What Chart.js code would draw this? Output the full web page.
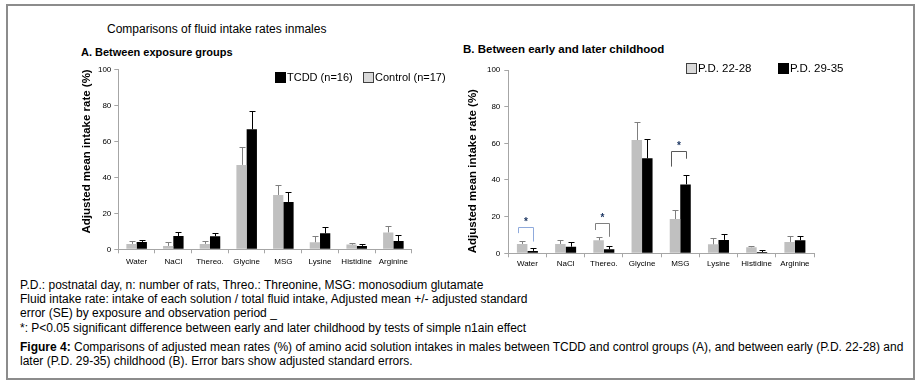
<!DOCTYPE html>
<html>
<head>
<meta charset="utf-8">
<script src="https://cdn.jsdelivr.net/npm/chart.js@4"></script>
<style>
  html, body { margin:0; padding:0; background:#fff; }
  #root { position:relative; width:919px; height:385px; overflow:hidden; background:#fff;
          font-family:"Liberation Sans", Arial, sans-serif; color:#000; }
  .frame { position:absolute; left:6px; top:4px; width:905px; height:372px; border:2px solid #8c8c8c; }
  .txt { position:absolute; white-space:nowrap; line-height:14px; }
  canvas { position:absolute; }
</style>
</head>
<body>
<div id="root">
  <div class="frame"></div>
  <div class="txt" style="left:107px;top:22px;font-size:12px;">Comparisons of fluid intake rates inmales</div>
  <div class="txt" style="left:81px;top:45px;font-size:11px;font-weight:bold;">A. Between exposure groups</div>
  <div class="txt" style="left:463px;top:42px;font-size:11.5px;font-weight:bold;">B. Between early and later childhood</div>
  <canvas id="chartA" width="390" height="220" style="left:60px;top:55px;"></canvas>
  <canvas id="chartB" width="420" height="220" style="left:450px;top:55px;"></canvas>
  <div class="txt" style="left:20px;top:278px;font-size:12px;">P.D.: postnatal day, n: number of rats, Threo.: Threonine, MSG: monosodium glutamate</div>
  <div class="txt" style="left:20px;top:292px;font-size:12px;">Fluid intake rate: intake of each solution / total fluid intake, Adjusted mean +/- adjusted standard</div>
  <div class="txt" style="left:20px;top:306px;font-size:12px;">error (SE) by exposure and observation period _</div>
  <div class="txt" style="left:20px;top:321px;font-size:12px;">*: P&lt;0.05 significant difference between early and later childhood by tests of simple n1ain effect</div>
  <div class="txt" style="left:20px;top:340px;font-size:12px;"><b>Figure 4:</b> Comparisons of adjusted mean rates (%) of amino acid solution intakes in males between TCDD and control groups (A), and between early (P.D. 22-28) and</div>
  <div class="txt" style="left:20px;top:354px;font-size:12px;">later (P.D. 29-35) childhood (B). Error bars show adjusted standard errors.</div>
</div>
<script>
// ---------- DATA ----------
const categories = ['Water', 'NaCl', 'Thereo.', 'Glycine', 'MSG', 'Lysine', 'Histidine', 'Arginine'];
const yTicks = [0, 20, 40, 60, 80, 100];

// Panel A: between exposure groups
const controlA    = [3.0, 1.9, 3.0, 46.9, 30.2, 3.9, 2.6, 9.4];
const controlAErr = [1.6, 2.2, 1.4, 9.8, 5.4, 3.3, 0.7, 3.4];
const tcddA       = [4.1, 7.4, 7.2, 66.7, 26.3, 8.9, 1.9, 4.6];
const tcddAErr    = [1.1, 2.2, 1.9, 10.0, 5.4, 3.3, 0.9, 3.2];

// Panel B: between early and later childhood
const earlyB    = [5.1, 5.1, 7.1, 61.8, 18.7, 4.9, 3.3, 6.2];
const earlyBErr = [1.5, 2.0, 1.6, 9.7, 4.8, 3.3, 0.5, 3.4];
const laterB    = [1.3, 3.6, 2.2, 51.8, 37.6, 7.3, 0.7, 7.1];
const laterBErr = [1.4, 2.6, 1.6, 10.4, 4.9, 3.1, 0.9, 2.5];

// Significance brackets (panel B): category index, bracket top, left-leg end, right-leg end
const sigCategory = [0, 2, 4];
const sigTop      = [14.2, 16.4, 55.6];
const sigLeftEnd  = [11.0, 12.7, 47.3];
const sigRightEnd = [6.4, 9.0, 51.6];

// ---------- PLUGINS ----------
const errorBarPlugin = {
  id: 'errorBars',
  afterDatasetsDraw(chart) {
    const ctx = chart.ctx;
    const yScale = chart.scales.y;
    chart.data.datasets.forEach((ds, di) => {
      if (!ds.errorValues) return;
      const meta = chart.getDatasetMeta(di);
      ctx.save();
      ctx.strokeStyle = ds.errorColor;
      ctx.lineWidth = 1;
      meta.data.forEach((bar, i) => {
        const top = yScale.getPixelForValue(ds.data[i] + ds.errorValues[i]);
        const x = Math.round(bar.x) + 0.5;
        ctx.beginPath();
        ctx.moveTo(x, bar.y);
        ctx.lineTo(x, Math.round(top) + 0.5);
        ctx.moveTo(x - 3, Math.round(top) + 0.5);
        ctx.lineTo(x + 3, Math.round(top) + 0.5);
        ctx.stroke();
      });
      ctx.restore();
    });
  }
};

const customLegendPlugin = {
  id: 'customLegend',
  afterDraw(chart, args, opts) {
    if (!opts.items) return;
    const ctx = chart.ctx;
    ctx.save();
    opts.items.forEach(it => {
      const ds = chart.data.datasets[it.dataset];
      ctx.fillStyle = it.fill || ds.backgroundColor;
      ctx.fillRect(it.x, it.y, opts.box, opts.box);
      if (it.stroke) {
        ctx.strokeStyle = it.stroke;
        ctx.lineWidth = 1;
        ctx.strokeRect(it.x + 0.5, it.y + 0.5, opts.box - 1, opts.box - 1);
      }
      ctx.fillStyle = '#000';
      ctx.font = opts.font;
      ctx.textBaseline = 'middle';
      ctx.textAlign = 'left';
      ctx.fillText(ds.label, it.x + opts.box + 1, it.y + opts.box / 2 + 0.5);
    });
    ctx.restore();
  }
};

const sigPlugin = {
  id: 'sigBrackets',
  afterDatasetsDraw(chart, args, opts) {
    if (!opts.enabled) return;
    const ctx = chart.ctx;
    const yScale = chart.scales.y;
    const m0 = chart.getDatasetMeta(0), m1 = chart.getDatasetMeta(1);
    ctx.save();
    sigCategory.forEach((c, k) => {
      const b0 = m0.data[c], b1 = m1.data[c];
      const xl = Math.round(b0.x - b0.width * 0.35) + 0.5;
      const xr = Math.round(b1.x) + 0.5;
      const yt = Math.round(yScale.getPixelForValue(sigTop[k])) + 0.5;
      const yl = yScale.getPixelForValue(sigLeftEnd[k]);
      const yr = yScale.getPixelForValue(sigRightEnd[k]);
      ctx.strokeStyle = opts.colors[k];
      ctx.lineWidth = 1;
      ctx.beginPath();
      ctx.moveTo(xl, yl); ctx.lineTo(xl, yt); ctx.lineTo(xr, yt); ctx.lineTo(xr, yr);
      ctx.stroke();
      ctx.fillStyle = opts.starColor;
      ctx.font = 'bold 10px "Liberation Sans", Arial, sans-serif';
      ctx.textAlign = 'center';
      ctx.textBaseline = 'middle';
      ctx.fillText('*', (xl + xr) / 2, yt - 5);
    });
    ctx.restore();
  }
};

function buildChart(id, datasets, cfg) {
  return new Chart(document.getElementById(id), {
    type: 'bar',
    data: { labels: categories, datasets: datasets },
    options: {
      responsive: false,
      animation: false,
      devicePixelRatio: 1,
      layout: { padding: cfg.padding },
      datasets: { bar: { categoryPercentage: cfg.catPct, barPercentage: 1.0 } },
      plugins: {
        legend: { display: false },
        tooltip: { enabled: false },
        customLegend: cfg.legend,
        sigBrackets: cfg.sig
      },
      scales: {
        x: {
          grid: { display: true, offset: true, drawOnChartArea: false, tickLength: 4, color: '#a6a6a6' },
          border: { color: '#a6a6a6' },
          ticks: { font: { size: 8, family: '"Liberation Sans", Arial, sans-serif' }, color: '#000',
                   maxRotation: 0, minRotation: 0, autoSkip: false, padding: cfg.xPad },
          afterFit(s) { s.height = cfg.xHeight; }
        },
        y: {
          min: 0, max: 100,
          afterBuildTicks(s) { s.ticks = yTicks.map(v => ({ value: v })); },
          grid: { display: true, drawOnChartArea: false, tickLength: 4, color: '#a6a6a6' },
          border: { color: '#a6a6a6' },
          ticks: { font: { size: 8, family: '"Liberation Sans", Arial, sans-serif' }, color: '#000', padding: cfg.yPad },
          title: { display: true, text: 'Adjusted mean intake rate (%)', align: cfg.titleAlign,
                   font: { size: 11.5, weight: 'bold', family: '"Liberation Sans", Arial, sans-serif' }, color: '#000',
                   padding: { top: 4, bottom: 4 } },
          afterFit(s) { s.width = cfg.yWidth; }
        }
      }
    },
    plugins: [errorBarPlugin, customLegendPlugin, sigPlugin]
  });
}

buildChart('chartA', [
  { label: 'Control (n=17)', data: controlA, backgroundColor: '#c0c0c0', errorValues: controlAErr, errorColor: '#7f7f7f' },
  { label: 'TCDD (n=16)', data: tcddA, backgroundColor: '#000000', errorValues: tcddAErr, errorColor: '#000000' }
], {
  padding: { left: 15.8, top: 14.3, right: 38.3, bottom: 0 },
  catPct: 0.56, xPad: 4, yPad: 3, xHeight: 25.7, yWidth: 42.5, titleAlign: 'end',
  legend: { box: 11, font: '11px "Liberation Sans", Arial, sans-serif',
            items: [ { dataset: 1, x: 215, y: 17 }, { dataset: 0, x: 303, y: 17, stroke: '#404040', fill: '#d9d9d9' } ] },
  sig: { enabled: false }
});

buildChart('chartB', [
  { label: 'P.D. 22-28', data: earlyB, backgroundColor: '#c0c0c0', errorValues: earlyBErr, errorColor: '#7f7f7f' },
  { label: 'P.D. 29-35', data: laterB, backgroundColor: '#000000', errorValues: laterBErr, errorColor: '#000000' }
], {
  padding: { left: 12.1, top: 15, right: 56, bottom: 0 },
  catPct: 0.55, xPad: 2, yPad: 4, xHeight: 21.7, yWidth: 46.2, titleAlign: 'start',
  legend: { box: 11, font: '11.5px "Liberation Sans", Arial, sans-serif',
            items: [ { dataset: 0, x: 236, y: 8, stroke: '#404040', fill: '#d9d9d9' }, { dataset: 1, x: 328, y: 8 } ] },
  sig: { enabled: true, colors: ['#8faadc', '#7f7f7f', '#595959'], starColor: '#1f3864' }
});
</script>
</body>
</html>
